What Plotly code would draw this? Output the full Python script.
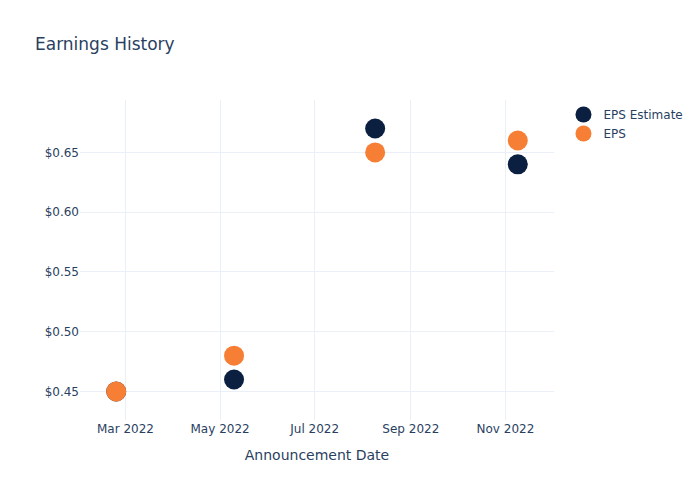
import plotly.graph_objects as go

dates = ["2022-02-23", "2022-05-10", "2022-08-09", "2022-11-09"]
eps_estimate = [0.45, 0.46, 0.67, 0.64]
eps_actual = [0.45, 0.48, 0.65, 0.66]

NAVY = "#0b1f41"
ORANGE = "#f77f35"

fig = go.Figure()
fig.add_trace(go.Scatter(
    x=dates, y=eps_estimate, mode="markers", name="EPS Estimate",
    marker=dict(color=NAVY, size=20),
))
fig.add_trace(go.Scatter(
    x=dates, y=eps_actual, mode="markers", name="EPS",
    marker=dict(color=ORANGE, size=20),
))

# page body has an 8px margin, so shrink the figure and shift margins
fig.update_layout(
    template="plotly_white",
    width=692, height=492,
    margin=dict(l=72, t=92, r=80, b=80),
    font=dict(family="DejaVu Sans"),
    title=dict(text="Earnings History", x=27 / 692, xanchor="left",
               y=1 - 36 / 492, yanchor="middle"),
    xaxis=dict(title="Announcement Date"),
    yaxis=dict(tickprefix="$", tickformat=".2f"),
)

fig.write_html("out.html")
